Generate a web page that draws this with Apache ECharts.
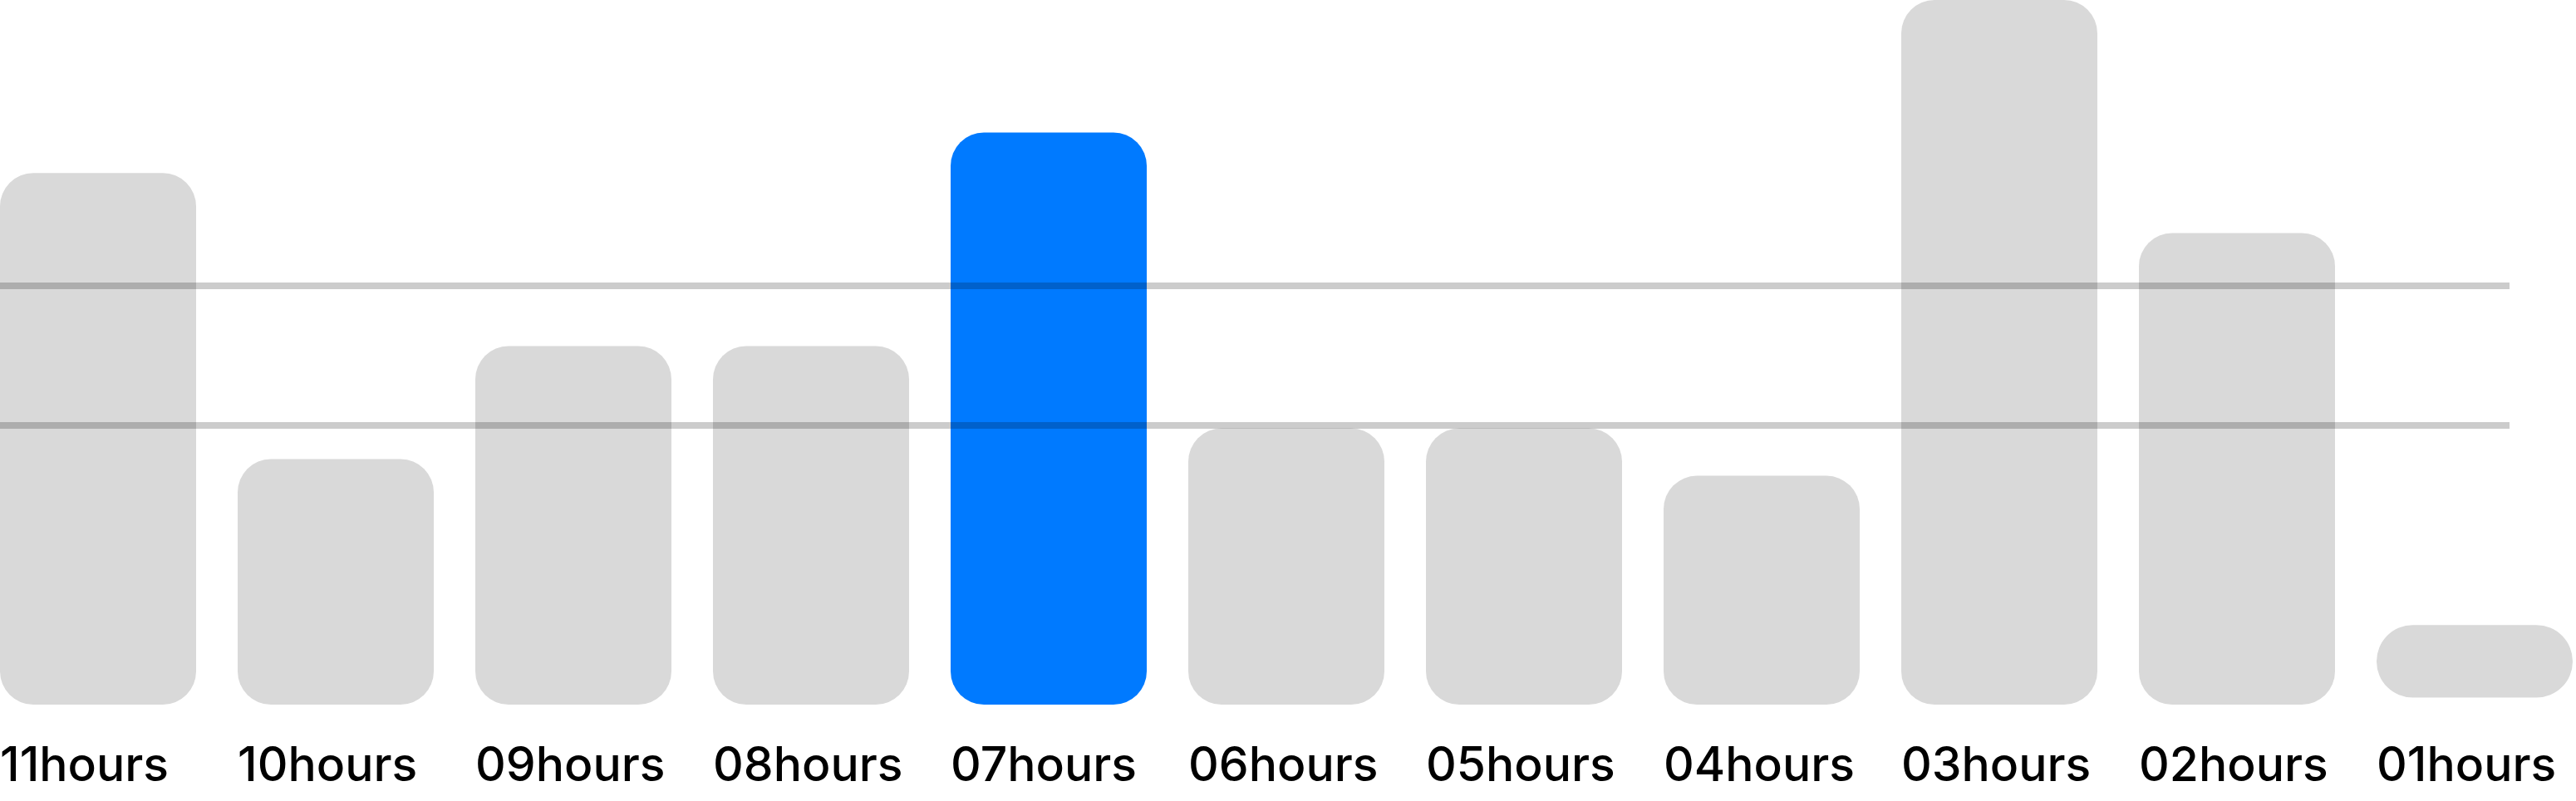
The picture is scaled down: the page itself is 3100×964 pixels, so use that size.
<!DOCTYPE html>
<html>
<head>
<meta charset="utf-8">
<script src="https://cdn.jsdelivr.net/npm/echarts@6/dist/echarts.min.js"></script>
<style>
  html, body { margin: 0; padding: 0; background: #ffffff; }
  #chart { width: 3100px; height: 964px; }
</style>
</head>
<body>
<div id="chart"></div>
<script>
// ---- data ----
const categories = ['11hours', '10hours', '09hours', '08hours', '07hours', '06hours', '05hours', '04hours', '03hours', '02hours', '01hours'];
const baseOffsets = [0, 0, 0, 0, 0, 0, 0, 0, 0, 0, 0.05];
const values = [3.81, 1.76, 2.57, 2.57, 4.10, 1.98, 1.98, 1.64, 5.05, 3.38, 0.52];
const highlightIndex = 4;
const refLines = [3, 2];

const chart = echarts.init(document.getElementById('chart'), null, { renderer: 'canvas' });

const barData = values.map((v, i) => {
  const item = { value: v };
  if (i === highlightIndex) item.itemStyle = { color: '#007aff' };
  if (i === values.length - 1) item.itemStyle = { borderRadius: 44 };
  return item;
});

const labelFont = { fontFamily: 'Inter', fontSize: 57, fontWeight: 500, color: '#000000' };

const option = {
  animation: false,
  backgroundColor: '#ffffff',
  grid: { left: -25, right: -21, top: 0, bottom: 116, containLabel: false, outerBoundsMode: 'none' },
  xAxis: {
    type: 'category',
    data: categories,
    axisLine: { show: false },
    axisTick: { show: false },
    splitLine: { show: false },
    axisLabel: Object.assign({
      interval: 0,
      margin: 46,
      align: 'center',
      hideOverlap: false,
      formatter: (v) => '{a|' + v + '}',
      rich: {
        a: Object.assign({ width: 236, align: 'left' }, labelFont)
      }
    }, labelFont)
  },
  yAxis: {
    type: 'value',
    min: 0,
    max: 'dataMax',
    show: false,
    splitLine: { show: false }
  },
  series: [
    {
      type: 'bar',
      stack: 'h',
      barWidth: 236,
      silent: true,
      itemStyle: { color: 'rgba(0,0,0,0)' },
      data: baseOffsets
    },
    {
      type: 'bar',
      stack: 'h',
      barWidth: 236,
      silent: true,
      itemStyle: { color: '#d9d9d9', borderRadius: 40 },
      data: barData,
      markLine: {
        silent: true,
        symbol: ['none', 'none'],
        label: { show: false },
        lineStyle: { color: 'rgba(0,0,0,0.2)', width: 8, type: 'solid' },
        data: refLines.map(v => [{ yAxis: v, x: 0 }, { yAxis: v, x: 3020 }])
      }
    }
  ]
};

chart.setOption(option);
</script>
</body>
</html>
